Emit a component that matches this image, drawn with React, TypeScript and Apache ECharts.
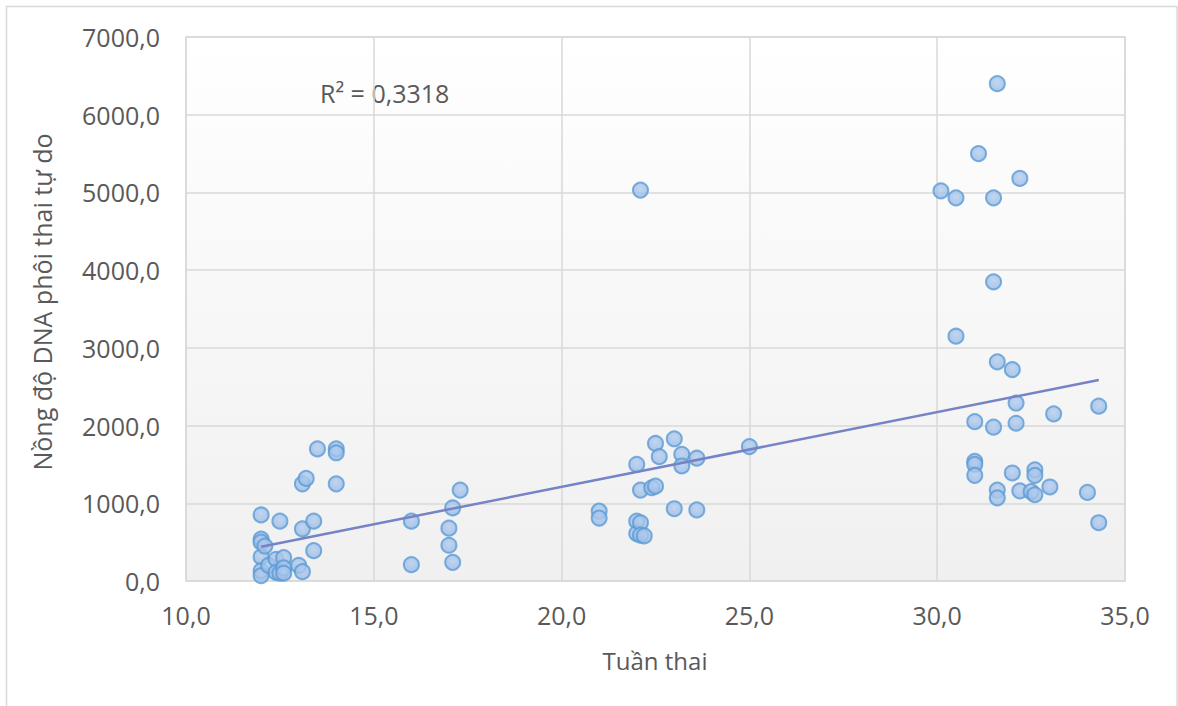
import React, { useEffect, useRef } from "react";
import * as echarts from "echarts";

// Gestational week (x) and cell-free fetal DNA concentration (y)
const weeks: number[] = [
  12.0, 12.0, 12.0, 12.0, 12.0, 12.0, 12.1, 12.2, 12.4, 12.4, 12.5, 12.5,
  12.6, 12.6, 12.6, 13.0, 13.1, 13.1, 13.1, 13.2, 13.4, 13.4, 13.5, 14.0,
  14.0, 14.0, 16.0, 16.0, 17.0, 17.0, 17.1, 17.1, 17.3, 21.0, 21.0, 22.0,
  22.0, 22.0, 22.1, 22.1, 22.1, 22.1, 22.2, 22.4, 22.5, 22.5, 22.6, 23.0,
  23.0, 23.2, 23.2, 23.6, 23.6, 25.0, 30.1, 30.5, 30.5, 31.0, 31.0, 31.0,
  31.0, 31.1, 31.5, 31.5, 31.5, 31.6, 31.6, 31.6, 31.6, 32.0, 32.0, 32.1,
  32.1, 32.2, 32.2, 32.5, 32.6, 32.6, 32.6, 33.0, 33.1, 34.0, 34.3, 34.3,
];
const concentrations: number[] = [
  850, 540, 500, 310, 130, 70, 450, 200, 280, 110, 770, 100,
  300, 170, 100, 200, 670, 120, 1250, 1320, 770, 390, 1700, 1700,
  1650, 1250, 770, 210, 680, 460, 940, 240, 1170, 900, 810, 1500,
  770, 610, 1170, 750, 590, 5030, 580, 1200, 1770, 1220, 1600, 1830,
  930, 1630, 1480, 1580, 915, 1730, 5020, 4930, 3150, 2050, 1540, 1500,
  1360, 5500, 4930, 3850, 1980, 6400, 2820, 1170, 1070, 2720, 1390, 2290,
  2030, 5180, 1160, 1150, 1430, 1360, 1110, 1210, 2150, 1140, 2250, 750,
];

// Linear trendline: y = slope * x + intercept
const trendSlope = 96.2;
const trendIntercept = -713;
const trendRange: number[] = [12.0, 34.3];
const rSquaredLabel = "R² = 0,3318";

const xAxisTitle = "Tuần thai";
const yAxisTitle = "Nồng độ DNA phôi thai tự do";

const FONT = "'Open Sans', 'Noto Sans', sans-serif";
const fmt = (v: number) => v.toFixed(1).replace(".", ",");

export default function App() {
  const ref = useRef<HTMLDivElement>(null);

  useEffect(() => {
    if (!ref.current) return;
    const chart = echarts.init(ref.current, undefined, { renderer: "svg" });
    const points = weeks.map((w, i) => [w, concentrations[i]]);
    const trend = trendRange.map((x) => [x, trendSlope * x + trendIntercept]);

    chart.setOption({
      animation: false,
      backgroundColor: "#ffffff",
      grid: {
        left: 186,
        top: 37,
        width: 939,
        height: 544,
        show: true,
        borderColor: "#d9d9d9",
        borderWidth: 1.5,
        backgroundColor: new echarts.graphic.LinearGradient(0, 0, 0, 1, [
          { offset: 0, color: "#ffffff" },
          { offset: 1, color: "#f0f0f0" },
        ]),
      },
      xAxis: {
        type: "value",
        min: 10,
        max: 35,
        interval: 5,
        axisLine: { show: false },
        axisTick: { show: false },
        splitLine: { show: true, lineStyle: { color: "#d9d9d9", width: 1.5 } },
        axisLabel: {
          formatter: fmt,
          color: "#595959",
          fontSize: 25,
          fontFamily: FONT,
          margin: 21,
        },
      },
      yAxis: {
        type: "value",
        min: 0,
        max: 7000,
        interval: 1000,
        axisLine: { show: false },
        axisTick: { show: false },
        splitLine: { show: true, lineStyle: { color: "#d9d9d9", width: 1.5 } },
        axisLabel: {
          formatter: fmt,
          color: "#595959",
          fontSize: 25,
          fontFamily: FONT,
          margin: 26,
        },
      },
      series: [
        {
          type: "scatter",
          data: points,
          symbol: "circle",
          symbolSize: 15,
          z: 2,
          itemStyle: {
            color: new echarts.graphic.RadialGradient(0.5, 0.4, 0.7, [
              { offset: 0, color: "#b3cdef" },
              { offset: 1, color: "#92b6e4" },
            ]),
            borderColor: "#5b9bd5",
            borderWidth: 2,
          },
        },
        {
          type: "line",
          data: trend,
          symbol: "none",
          z: 3,
          lineStyle: { color: "#6688d4", width: 2.5 },
        },
        {
          type: "line",
          data: trend,
          symbol: "none",
          z: 4,
          lineStyle: { color: "#c86a80", width: 1, type: [2, 2], opacity: 0.8 },
        },
      ],
      graphic: [
        {
          type: "rect",
          shape: { x: 6.5, y: 6.5, width: 1170.5, height: 720 },
          style: { fill: "none", stroke: "#d9d9d9", lineWidth: 1.5 },
          silent: true,
        },
        {
          type: "text",
          left: 320,
          top: 80,
          style: {
            text: rSquaredLabel,
            fill: "#595959",
            fontSize: 25,
            fontFamily: FONT,
          },
        },
        {
          type: "text",
          x: 655,
          y: 660,
          style: {
            text: xAxisTitle,
            fill: "#595959",
            fontSize: 24,
            fontFamily: FONT,
            align: "center",
            verticalAlign: "middle",
          },
        },
        {
          type: "text",
          x: 42,
          y: 302,
          rotation: Math.PI / 2,
          style: {
            text: yAxisTitle,
            fill: "#595959",
            fontSize: 25,
            fontFamily: FONT,
            align: "center",
            verticalAlign: "middle",
          },
        },
      ],
    });

    return () => chart.dispose();
  }, []);

  return (
    <div
      ref={ref}
      style={{ position: "fixed", left: 0, top: 0, width: 1178, height: 706 }}
    />
  );
}
